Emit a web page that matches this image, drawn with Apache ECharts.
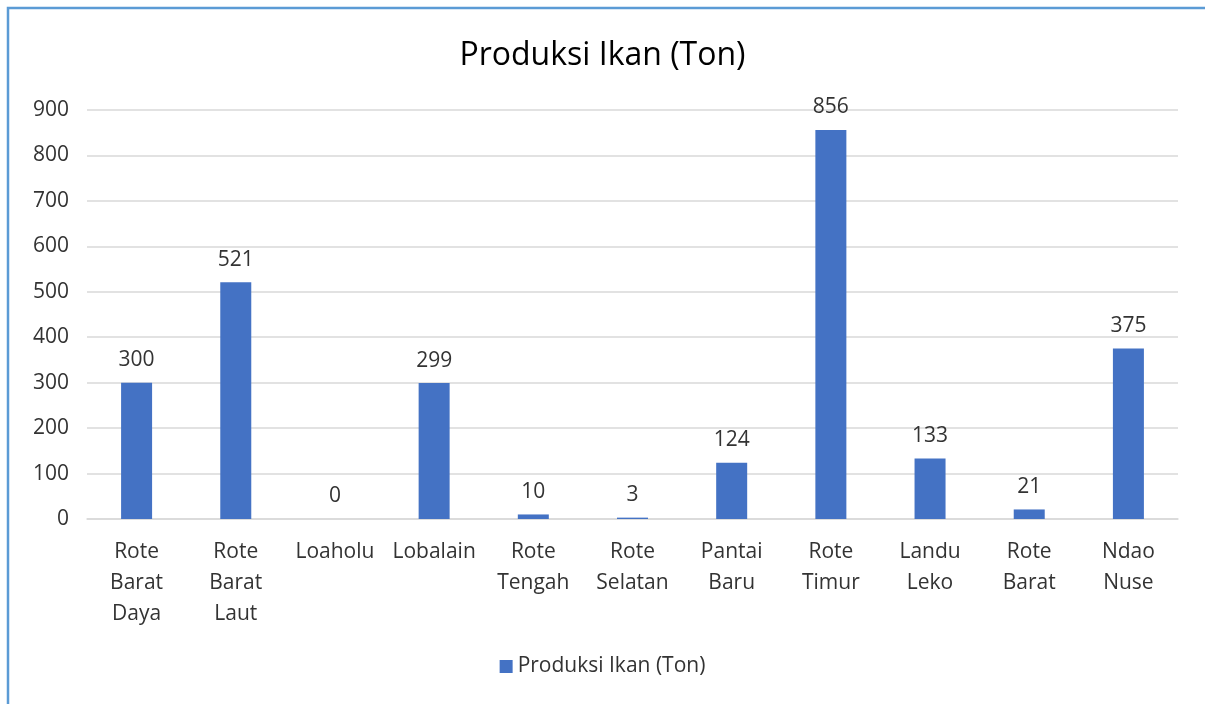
<!DOCTYPE html>
<html>
<head>
    <title>Produksi Ikan (Ton)</title>
    <meta charset="utf-8" />
    <script src="https://cdn.jsdelivr.net/npm/echarts@6/dist/echarts.min.js"></script>
    <style type="text/css">
        html,
        body {
            width: 100%;
            height: 100%;
            margin: 0;
            background: #fff;
        }

        #chart {
            width: 1205px;
            height: 704px;
        }
    </style>
</head>

<body>
    <div id="chart"></div>
    <script>
        var categories = ['Rote\nBarat\nDaya', 'Rote\nBarat\nLaut', 'Loaholu', 'Lobalain', 'Rote\nTengah',
            'Rote\nSelatan', 'Pantai\nBaru', 'Rote\nTimur', 'Landu\nLeko', 'Rote\nBarat', 'Ndao\nNuse'];
        var produksi = [300, 521, 0, 299, 10, 3, 124, 856, 133, 21, 375];
        var yTicks = [0, 100, 200, 300, 400, 500, 600, 700, 800, 900];

        var fontName = '"Open Sans", "Noto Sans", sans-serif';
        var textColor = '#333333';
        var myChart = echarts.init(document.getElementById('chart'));

        var option = {
            backgroundColor: '#fff',
            animation: false,
            textStyle: { fontFamily: fontName },
            title: {
                text: 'Produksi Ikan (Ton)',
                left: 'center',
                top: 35,
                textStyle: { fontSize: 32, fontWeight: 'normal', color: '#000', fontFamily: fontName }
            },
            legend: {
                bottom: 22,
                left: 'center',
                itemWidth: 13,
                itemHeight: 13,
                itemGap: 8,
                icon: 'rect',
                textStyle: { fontSize: 21, color: textColor, fontFamily: fontName }
            },
            grid: { left: 87, right: 27, top: 110, bottom: 185 },
            xAxis: {
                type: 'category',
                data: categories,
                axisLine: { lineStyle: { color: '#d9d9d9', width: 1.5 } },
                axisTick: { show: false },
                axisLabel: {
                    interval: 0,
                    color: textColor,
                    fontSize: 21,
                    lineHeight: 31,
                    margin: 18,
                    fontFamily: fontName
                }
            },
            yAxis: {
                type: 'value',
                min: yTicks[0],
                max: yTicks[yTicks.length - 1],
                interval: 100,
                axisLine: { show: false },
                axisTick: { show: false },
                splitLine: { lineStyle: { color: '#d9d9d9', width: 1.5 } },
                axisLabel: { color: textColor, fontSize: 21, margin: 18, fontFamily: fontName }
            },
            series: [{
                name: 'Produksi Ikan (Ton)',
                type: 'bar',
                data: produksi,
                barWidth: 31,
                itemStyle: { color: '#4472C4' },
                label: {
                    show: true,
                    position: 'top',
                    distance: 12,
                    color: textColor,
                    fontSize: 21,
                    fontFamily: fontName
                }
            }],
            graphic: [{
                type: 'polyline',
                shape: { points: [[8, 720], [8, 8], [1220, 8]] },
                style: { stroke: '#5B9BD5', lineWidth: 2.5, fill: null },
                silent: true
            }]
        };

        myChart.setOption(option);
    </script>
</body>
</html>
